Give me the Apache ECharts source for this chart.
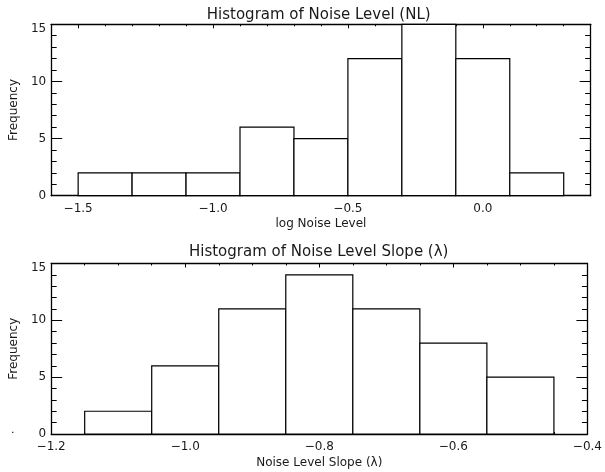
<!DOCTYPE html>
<html>
<head>
<meta charset="utf-8">
<script src="https://cdn.jsdelivr.net/npm/echarts@6/dist/echarts.min.js"></script>
<style>
  html, body { margin: 0; padding: 0; background: #fff; }
  #chart { width: 605px; height: 472px; }
</style>
</head>
<body>
<div id="chart"></div>
<script>
// histogram of log noise level (NL)
const nlEdges = [-1.5, -1.3, -1.1, -0.9, -0.7, -0.5, -0.3, -0.1, 0.1, 0.3];
const nlCounts = [2, 2, 2, 6, 5, 12, 15, 12, 2];
const nlMajorTicks = [-1.5, -1.0, -0.5, 0.0];
const nlMinorTicks = [-1.6, -1.5, -1.4, -1.3, -1.2, -1.1, -1.0, -0.9, -0.8, -0.7, -0.6,
  -0.5, -0.4, -0.3, -0.2, -0.1, 0.0, 0.1, 0.2, 0.3, 0.4];

// histogram of noise level slope (lambda)
const slopeEdges = [-1.15, -1.05, -0.95, -0.85, -0.75, -0.65, -0.55, -0.45];
const slopeCounts = [2, 6, 11, 14, 11, 8, 5];
const slopeMajorTicks = [-1.2, -1.0, -0.8, -0.6, -0.4];
const slopeMinorTicks = [-1.2, -1.15, -1.1, -1.05, -1.0, -0.95, -0.9, -0.85, -0.8, -0.75,
  -0.7, -0.65, -0.6, -0.55, -0.5, -0.45, -0.4];

// frequency axis (both panels)
const freqMajorTicks = [0, 5, 10, 15];
const freqMinorTicks = [0, 1, 2, 3, 4, 5, 6, 7, 8, 9, 10, 11, 12, 13, 14, 15];

const FONT = 'DejaVu Sans';
const INK = '#000';
const TEXT = '#1a1a1a';

const fmtX = v => (v < 0 ? '\u2212' : '') + Math.abs(v).toFixed(1);

// IDL style box: major + minor ticks on all four sides, pointing in
function xAxes(grid, min, max, major, minor, name, gap) {
  const base = { type: 'value', gridIndex: grid, min: min, max: max, splitLine: { show: false } };
  const line = { show: true, onZero: false, lineStyle: { color: INK, width: 1.3 } };
  const noLine = { show: false, onZero: false };
  return [
    Object.assign({}, base, {
      position: 'bottom',
      axisLine: line,
      axisTick: { show: true, inside: true, length: 4, customValues: major, lineStyle: { color: INK } },
      axisLabel: { show: true, customValues: major, formatter: fmtX, margin: 7,
        fontFamily: FONT, fontSize: 12, color: TEXT },
      name: name, nameLocation: 'middle', nameGap: 22.5,
      nameTextStyle: { fontFamily: FONT, fontSize: 12, color: TEXT }
    }),
    Object.assign({}, base, {
      position: 'bottom',
      axisLine: noLine,
      axisTick: { show: true, inside: true, length: 2, customValues: minor, lineStyle: { color: INK } },
      axisLabel: { show: false }
    }),
    Object.assign({}, base, {
      position: 'top',
      axisLine: line,
      axisTick: { show: true, inside: true, length: 4, customValues: major, lineStyle: { color: INK } },
      axisLabel: { show: false }
    }),
    Object.assign({}, base, {
      position: 'top',
      axisLine: noLine,
      axisTick: { show: true, inside: true, length: 2, customValues: minor, lineStyle: { color: INK } },
      axisLabel: { show: false }
    })
  ];
}

function yAxes(grid) {
  const base = { type: 'value', gridIndex: grid, min: 0, max: 15, splitLine: { show: false } };
  const line = { show: true, onZero: false, lineStyle: { color: INK, width: 1.3 } };
  const noLine = { show: false, onZero: false };
  return [
    Object.assign({}, base, {
      position: 'left',
      axisLine: line,
      axisTick: { show: true, inside: true, length: 11, customValues: freqMajorTicks, lineStyle: { color: INK } },
      axisLabel: {
        show: true, customValues: freqMajorTicks, margin: 5,
        fontFamily: FONT, fontSize: 12, color: TEXT,
        formatter: v => v === 15 ? '{hi|15}' : String(v),
        rich: { hi: { padding: [9, 0, 0, 0], fontFamily: FONT, fontSize: 12, color: TEXT } }
      },
      name: 'Frequency', nameLocation: 'middle', nameGap: 21,
      nameTextStyle: { fontFamily: FONT, fontSize: 12, color: TEXT }
    }),
    Object.assign({}, base, {
      position: 'left',
      axisLine: noLine,
      axisTick: { show: true, inside: true, length: 5.5, customValues: freqMinorTicks, lineStyle: { color: INK } },
      axisLabel: { show: false }
    }),
    Object.assign({}, base, {
      position: 'right',
      axisLine: line,
      axisTick: { show: true, inside: true, length: 11, customValues: freqMajorTicks, lineStyle: { color: INK } },
      axisLabel: { show: false }
    }),
    Object.assign({}, base, {
      position: 'right',
      axisLine: noLine,
      axisTick: { show: true, inside: true, length: 5.5, customValues: freqMinorTicks, lineStyle: { color: INK } },
      axisLabel: { show: false }
    })
  ];
}

function histSeries(edges, counts, xIdx, yIdx) {
  return {
    type: 'custom',
    xAxisIndex: xIdx,
    yAxisIndex: yIdx,
    encode: { x: [0, 1], y: 2 },
    data: counts.map((c, i) => [edges[i], edges[i + 1], c]),
    renderItem: (params, api) => {
      const p0 = api.coord([api.value(0), api.value(2)]);
      const p1 = api.coord([api.value(1), 0]);
      return {
        type: 'rect',
        shape: { x: p0[0], y: p0[1], width: p1[0] - p0[0], height: p1[1] - p0[1] },
        style: { fill: '#fff', stroke: INK, lineWidth: 1.2 }
      };
    },
    silent: true
  };
}

const chart = echarts.init(document.getElementById('chart'));

chart.setOption({
  animation: false,
  backgroundColor: '#fff',
  title: [
    { text: 'Histogram of Noise Level (NL)', left: 318.7, top: 7.5, textAlign: 'center', padding: 0,
      textStyle: { fontFamily: FONT, fontSize: 15, fontWeight: 'normal', color: TEXT } },
    { text: 'Histogram of Noise Level Slope (\u03bb)', left: 318.7, top: 244.5, textAlign: 'center', padding: 0,
      textStyle: { fontFamily: FONT, fontSize: 15, fontWeight: 'normal', color: TEXT } }
  ],
  grid: [
    { left: 46.7, right: 14.3, top: 24.3, height: 171.4 },
    { left: 46.7, right: 14.3, top: 263.5, height: 170.5 }
  ],
  xAxis: [].concat(
    xAxes(0, -1.6, 0.4, nlMajorTicks, nlMinorTicks, 'log Noise Level'),
    xAxes(1, -1.2, -0.4, slopeMajorTicks, slopeMinorTicks, 'Noise Level Slope (\u03bb)')
  ),
  yAxis: [].concat(yAxes(0), yAxes(1)),
  series: [
    histSeries(nlEdges, nlCounts, 0, 0),
    histSeries(slopeEdges, slopeCounts, 4, 4)
  ],
  graphic: [
    { type: 'text', left: 11, top: 425, style: { text: '.', fontFamily: FONT, fontSize: 11, fill: INK } }
  ]
});
</script>
</body>
</html>
